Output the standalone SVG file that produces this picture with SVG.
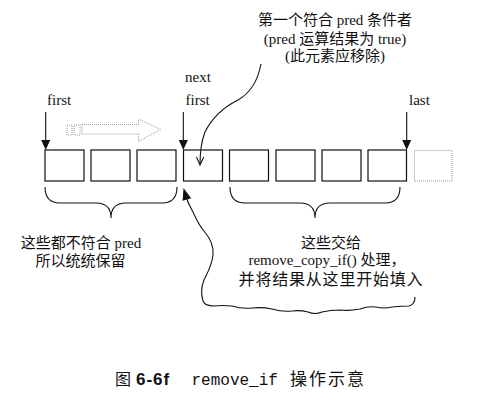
<svg xmlns="http://www.w3.org/2000/svg" width="496" height="412" viewBox="0 0 496 412">
<defs>
<style>
.t{font-family:"Liberation Serif","Noto Sans CJK SC",serif;font-size:15px;fill:#111;}
.box{fill:#fff;stroke:#111;stroke-width:1.2;}
.ghost{fill:none;stroke:#999;stroke-width:1;stroke-dasharray:1 1;}
.ln{fill:none;stroke:#111;stroke-width:1.1;}
.head{fill:#111;stroke:none;}
</style>
</defs>
<rect width="496" height="412" fill="#fff"/>

<g id="text-top">
<text class="t" x="335" y="25" text-anchor="middle">第一个符合 pred 条件者</text>
<text class="t" x="335" y="44" text-anchor="middle">(pred 运算结果为 true)</text>
<text class="t" x="335" y="61" text-anchor="middle">(此元素应移除)</text>
</g>

<g id="labels">
<text class="t" x="47" y="105">first</text>
<text class="t" x="185" y="82">next</text>
<text class="t" x="185.5" y="105">first</text>
<text class="t" x="409" y="105">last</text>
</g>

<g id="elements">
<g id="e1"><rect class="box" x="45" y="150" width="39" height="31"/></g>
<g id="e2"><rect class="box" x="91" y="150" width="39" height="31"/></g>
<g id="e3"><rect class="box" x="137" y="150" width="39" height="31"/></g>
<g id="e4"><rect class="box" x="183.5" y="150" width="39" height="31"/></g>
<g id="e5"><rect class="box" x="229.5" y="150" width="39" height="31"/></g>
<g id="e6"><rect class="box" x="276" y="150" width="39" height="31"/></g>
<g id="e7"><rect class="box" x="322" y="150" width="39" height="31"/></g>
<g id="e8"><rect class="box" x="368" y="150" width="38.5" height="31"/></g>
<g id="e9"><rect class="ghost" x="414.5" y="150.5" width="37.5" height="30.5"/></g>
</g>

<g id="move-hint">
<rect class="ghost" x="67" y="125" width="5" height="10"/>
<rect class="ghost" x="74" y="125" width="6" height="10"/>
<path class="ghost" d="M82,124.5 L138.5,124.5 L138.5,119 L160.5,129.5 L138.5,141.5 L138.5,134 L82,134 Z"/>
</g>

<g id="connectors">
<line class="ln" x1="45.7" y1="112" x2="45.7" y2="141"/>
<polygon class="head" points="41.2,140 50.2,140 45.7,150"/>
<line class="ln" x1="183.3" y1="112" x2="183.3" y2="141"/>
<polygon class="head" points="178.8,140 187.8,140 183.3,150"/>
<line class="ln" x1="406.7" y1="112" x2="406.7" y2="141"/>
<polygon class="head" points="402.2,140 411.2,140 406.7,150"/>

<path class="ln" d="M261,64 C258,80 252,92 238,100 C222,108 212,118 205,132 C201,142 200,152 200,165"/>
<path class="ln" d="M196.5,157 L200,165 L203.8,157"/>

<path class="ln" d="M45,187 Q45,203 60,203 L96,203 Q111,203 111,218 Q111,203 126,203 L162,203 Q177,203 177,187"/>
<path class="ln" d="M230,187 Q230,203 245,203 L300,203 Q315,203 315,218 Q315,203 330,203 L385,203 Q400,203 400,187"/>

<path class="ln" d="M415,297 C415,303 413,305 409,306 Q400,306 392,307 Q384,309 376,307 Q368,306 360,309 Q350,311 340,310 Q330,310 322,312 Q315,315 308,312 Q300,310 292,311 Q282,312 272,309 Q262,307 252,308 Q242,309 232,306 Q222,305 214,306 Q205,306 203,301 C201,294 201,287 204,280 C208,272 212,265 213,255 C214,245 210,238 204,231 C198,224 196,218 193,212 C190,206 188,203 187,199"/>
<polygon class="head" points="183.5,188 191.2,198.2 182.6,200.8"/>
</g>

<g id="text-left">
<text class="t" x="81" y="248" text-anchor="middle">这些都不符合 pred</text>
<text class="t" x="80.5" y="266" text-anchor="middle">所以统统保留</text>
</g>

<g id="text-right">
<text class="t" x="331" y="248" text-anchor="middle">这些交给</text>
<text class="t" x="327" y="265" text-anchor="middle">remove_copy_if() 处理，</text>
<text class="t" x="331" y="285" text-anchor="middle" style="font-size:16px;letter-spacing:0.8px">并将结果从这里开始填入</text>
</g>

<g id="caption">
<text class="t" x="115" y="385" style="font-size:16px">图</text>
<text x="136" y="385" style="font-family:'Liberation Sans',sans-serif;font-weight:bold;font-size:17px;letter-spacing:1px;fill:#111">6-6f</text>
<text x="191.5" y="385" style="font-family:'Liberation Mono',monospace;font-size:16px;fill:#111">remove_if</text>
<text x="290" y="385" style="font-family:'Noto Sans CJK SC',sans-serif;font-size:17px;letter-spacing:2px;fill:#111">操作示意</text>
</g>
</svg>
